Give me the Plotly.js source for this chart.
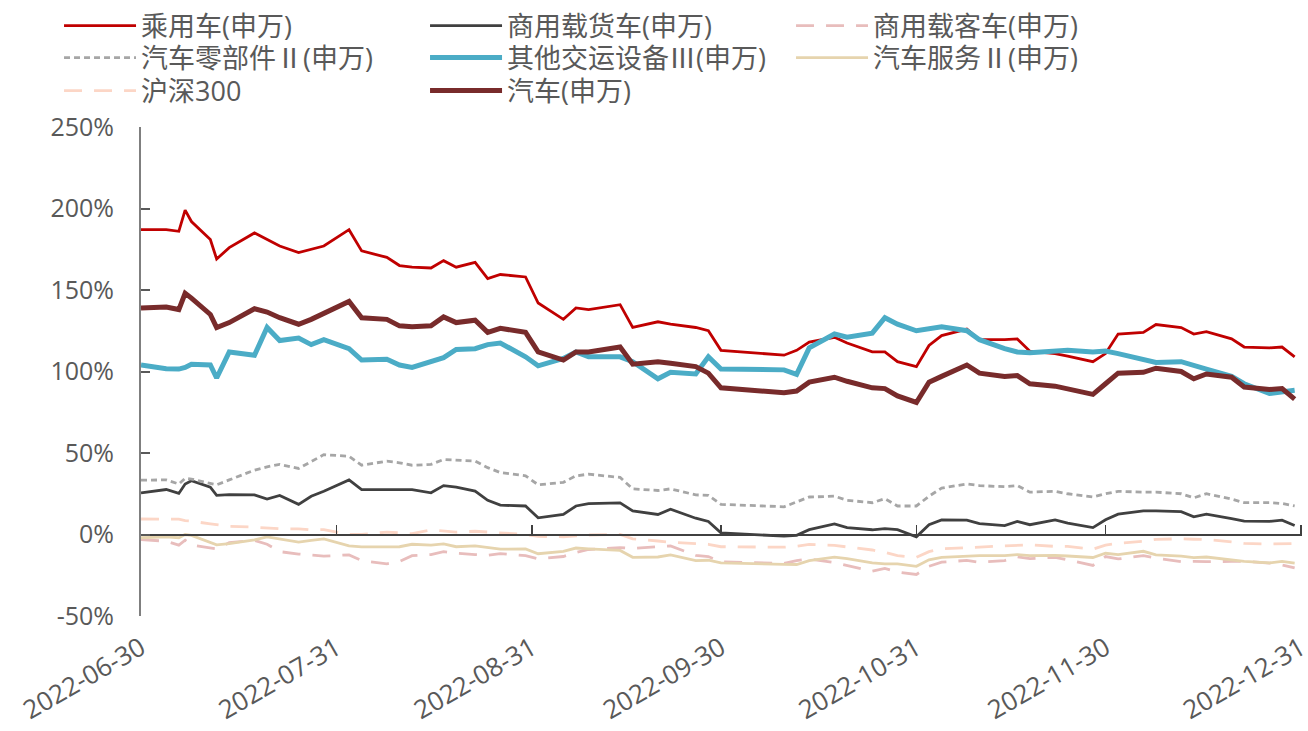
<!DOCTYPE html>
<html>
<head>
<meta charset="utf-8">
<script src="https://cdn.plot.ly/plotly-3.0.1.min.js"></script>
<style>html,body{margin:0;padding:0;background:#fff;}#chart{width:1308px;height:731px;}</style>
</head>
<body>
<div id="chart"></div>
<script>
const dates = ['2022-06-30','2022-07-04','2022-07-06','2022-07-07','2022-07-08','2022-07-11','2022-07-12','2022-07-14','2022-07-18','2022-07-20',
'2022-07-22','2022-07-25','2022-07-27','2022-07-29','2022-08-02','2022-08-04','2022-08-08','2022-08-10','2022-08-12','2022-08-15',
'2022-08-17','2022-08-19','2022-08-22','2022-08-24','2022-08-26','2022-08-30','2022-09-01','2022-09-05','2022-09-07','2022-09-09',
'2022-09-14','2022-09-16','2022-09-20','2022-09-22','2022-09-26','2022-09-28','2022-09-30','2022-10-10','2022-10-12','2022-10-14',
'2022-10-18','2022-10-20','2022-10-24','2022-10-26','2022-10-28','2022-10-31','2022-11-02','2022-11-04','2022-11-08','2022-11-10',
'2022-11-14','2022-11-16','2022-11-18','2022-11-22','2022-11-24','2022-11-28','2022-11-30','2022-12-02','2022-12-06','2022-12-08',
'2022-12-12','2022-12-14','2022-12-16','2022-12-20','2022-12-22','2022-12-26','2022-12-28','2022-12-30'];

const passengerCar = [187,187,186,199,192,181,169,176,185,181,177,173,175,177,187,174,170,165,164,163.5,168,164,167,157,159.5,158,142,132,139,138,141,127,130.5,129,127,125,113,110,113,118,121,117.5,112,112,106,103,116,122,126,119.5,119.5,120,112.5,111,109.4,106,111,123,124,128.8,127,123,124.5,120,115,114.5,115,109];
const truck = [25.5,27.6,25.2,31,33,29,24,24.5,24.3,21.7,24,18.5,23.5,26.5,33.5,27.5,27.5,27.3,27.5,25.6,30,29,26.6,21,18,17.5,10.2,12.3,17.5,19,19.4,14.5,12.3,15.5,10,8,1,-1,-0.5,3,6.5,4.2,2.9,3.6,3,-1.4,6,9,8.8,6.7,5.5,8,6,9,7,4.2,9,12.5,14.5,14.5,14,10.8,12.5,9.7,8.2,8,8.8,5.5];
const bus = [-3.2,-4.1,-6.5,-3.5,-6.5,-8,-8.8,-5,-3.6,-6,-10.5,-12,-12.8,-13.3,-12.5,-16,-18,-16.5,-13,-12.3,-10.5,-11.5,-12.3,-12.8,-11.7,-13,-15,-13.5,-11,-9.2,-8,-8.5,-7.5,-7,-12.8,-13.5,-16.8,-17.8,-16,-15,-17.2,-19,-22.5,-20.8,-23,-24.5,-19.5,-17,-15.9,-17,-16,-13.7,-14.8,-14,-15.5,-19,-13.5,-15,-13,-14.5,-16.7,-16.5,-16.7,-16.5,-16.4,-17.5,-18.7,-20.5];
const parts = [33.3,33.5,31,34.5,34,31.5,30.5,33.5,39.5,41.5,43,40.5,44.5,49,48,42.5,45,44,42.5,43,46,45.5,45,41,38,36,30.5,32,36,37,35,28,27,28,24.3,24,18.5,17,19.8,23,23.5,21,19.5,22,17.5,17.5,23.5,28.5,31,30,29.3,30,26,26.5,25,23,25,26.5,26,26,25,22.5,25,21.7,19.5,19.6,19,17.5];
const otherTransport = [104,101.7,101.5,102.5,104.5,104,96,112,110,127,119,120.5,116.5,119.5,114,107,107.5,104,102.5,106,108.5,113.5,114,116.5,117.5,109,103.5,108,112,109,109,106,95.5,99.5,98.5,109,101.5,101,98.2,114.5,123,121,123.5,133,129,125,126.5,127.5,125,119.5,114,112,111.5,112,113,112,112.5,111,107.3,105.5,106,103.5,101.5,97,92.5,86.5,87.5,88.5];
const service = [-2,-1.5,-2,0,-0.5,-4.8,-6.3,-5.6,-3.3,-1.5,-2.8,-4.7,-3.6,-2.7,-7,-7.6,-7.6,-7.5,-6,-6.5,-5.8,-7.5,-7,-8,-9,-8.9,-11.8,-10.4,-8.3,-8.8,-9.8,-14,-13.8,-12.5,-16,-15.8,-17.4,-18.3,-18.4,-16,-13.9,-14.8,-17.4,-18,-18,-19.5,-15.5,-14,-13.5,-13,-13,-12.3,-13,-12.8,-13.2,-14.1,-11.5,-12.3,-10.3,-12.5,-13.3,-14.2,-13.8,-15.3,-16.5,-17.4,-16.5,-17.5];
const hs300 = [9.5,9.2,9.4,8.5,8.2,6.5,6,5,4.5,4,3.5,3.5,2.8,3,0,0,1.5,1,0.5,2.8,2.3,1.5,2,1.5,0.6,0,-1.2,-1.4,-0.8,-0.3,0,-2.7,-4,-4.8,-5.6,-6,-7.5,-7.8,-7.2,-6.1,-6.7,-7.6,-9.5,-11,-13,-14,-10.5,-8.8,-8,-7.8,-7.2,-6.6,-6.3,-7.3,-7.3,-9,-6.5,-5.4,-4.2,-3,-2.6,-2.9,-3.1,-4.5,-5.5,-5.8,-5.5,-5.5];
const auto = [139,139.5,138,148,145,135,127,130,138.5,136.5,133,129,132,135.5,143,133,132,128,127.5,128,133.5,130,131.5,124,126.5,124,112,107,112,112,115,104.5,106,105,103,99,90,87,88,93.5,96.5,94,90,89.5,85,81,93.5,97,104,99,97,97.5,92.5,91,89.3,86,92.5,99,99.5,102,100,95.5,98.5,96.5,90.5,89,89.5,83];

const seriesNames = ['乘用车(申万)','商用载货车(申万)','商用载客车(申万)','汽车零部件Ⅱ(申万)','其他交运设备Ⅲ(申万)','汽车服务Ⅱ(申万)','沪深300','汽车(申万)'];
const tickDates = ['2022-06-30','2022-07-31','2022-08-31','2022-09-30','2022-10-31','2022-11-30','2022-12-31'];
const yTicks = [-50,0,50,100,150,200,250];

const seriesData = [passengerCar, truck, bus, parts, otherTransport, service, hs300, auto];
const styles = [
  {color:'#C00000', width:2.8, dash:'solid'},
  {color:'#404040', width:2.8, dash:'solid'},
  {color:'#E8BDBC', width:2.8, dash:'18px,12px'},
  {color:'#A6A6A6', width:2.8, dash:'6px,4px'},
  {color:'#4BACC6', width:5, dash:'solid'},
  {color:'#E6D4AE', width:2.8, dash:'solid'},
  {color:'#FCD6C6', width:2.8, dash:'18px,12px'},
  {color:'#782B2B', width:5, dash:'solid'}
];
const legendRow = ['legend','legend','legend','legend2','legend2','legend2','legend3','legend3'];

const FONT = '"Open Sans", "Noto Sans CJK SC", sans-serif';
const traces = seriesData.map((vals, i) => ({
  type:'scatter', mode:'lines', name: seriesNames[i], x: dates, y: vals, legend: legendRow[i],
  line: {color: styles[i].color, width: styles[i].width, dash: styles[i].dash},
  hoverinfo:'skip'
}));
traces.push({type:'scatter', mode:'lines', x:[], y:[], xaxis:'x2', yaxis:'y', showlegend:false, hoverinfo:'skip'});

const RANGE = ['2022-06-30','2022-12-31 04:00'];
function legendAt(yc){
  return {orientation:'h', x:-0.0706, y:1 + (127 - yc)/489, xanchor:'left', yanchor:'middle',
          entrywidth:279, entrywidthmode:'pixels', itemwidth:72,
          font:{family:FONT, size:27, color:'#595959'}, bgcolor:'rgba(0,0,0,0)'};
}

const layout = {
  width:1308, height:731,
  margin:{l:141, r:6, t:127, b:115, autoexpand:false},
  paper_bgcolor:'#fff', plot_bgcolor:'#fff',
  font:{family:FONT, size:26, color:'#595959'},
  showlegend:true,
  legend:legendAt(26), legend2:legendAt(58), legend3:legendAt(91),
  xaxis:{type:'date', range:RANGE, tickmode:'array', tickvals:tickDates, ticktext:tickDates,
         tickangle:-30, showgrid:false, zeroline:false, showline:false, ticks:'', ticklabelstandoff:11,
         ticklabeloverflow:'allow', automargin:false,
         tickfont:{family:FONT, size:26, color:'#595959'}},
  xaxis2:{type:'date', overlaying:'x', anchor:'free', position:1/6, side:'bottom', range:RANGE,
          tickmode:'array', tickvals:tickDates, showticklabels:false, showgrid:false, zeroline:false,
          showline:true, linecolor:'#404040', linewidth:2, ticks:'inside', ticklen:9, tickwidth:1.5, tickcolor:'#404040'},
  yaxis:{range:[-50,250], tickmode:'array', tickvals:yTicks, ticktext:yTicks.map(v=>v+'%'),
         showgrid:false, zeroline:false, showline:true, linecolor:'#7F7F7F', linewidth:2,
         ticks:'inside', ticklen:9, tickwidth:2, tickcolor:'#595959', ticklabelstandoff:20, automargin:false,
         tickfont:{family:FONT, size:25, color:'#595959'}}
};

Plotly.newPlot('chart', traces, layout, {displayModeBar:false, staticPlot:true});
</script>
</body>
</html>
